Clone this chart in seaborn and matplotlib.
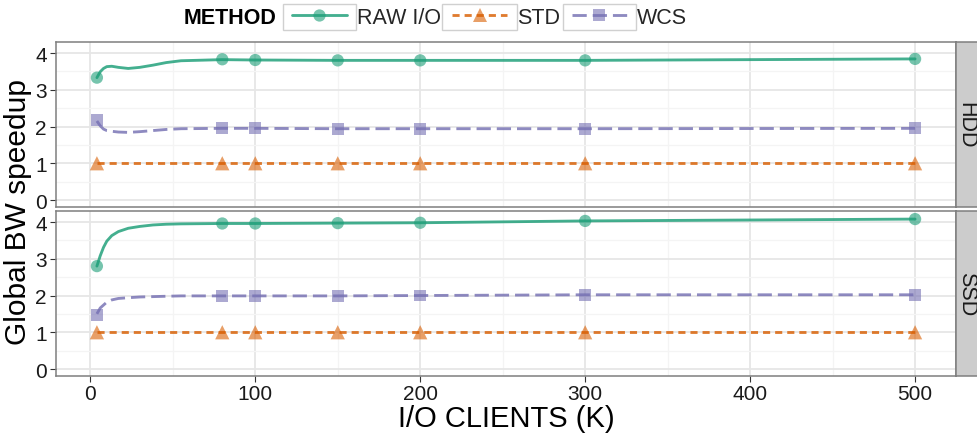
import matplotlib
matplotlib.use("Agg")
import matplotlib.pyplot as plt
from matplotlib.lines import Line2D
from matplotlib.patches import Rectangle
from matplotlib.ticker import MultipleLocator
import pandas as pd
import seaborn as sns

# ---- data -------------------------------------------------------------
methods = ["RAW I/O", "STD", "WCS"]
devices = ["HDD", "SSD"]

# measured points
clients = [4, 80, 100, 150, 200, 300, 500]
hdd_raw = [3.33, 3.83, 3.81, 3.80, 3.80, 3.80, 3.84]
hdd_std = [1.00, 1.00, 1.00, 1.00, 1.00, 1.00, 1.00]
hdd_wcs = [2.17, 1.95, 1.95, 1.94, 1.94, 1.94, 1.95]
ssd_raw = [2.80, 3.96, 3.96, 3.97, 3.98, 4.03, 4.08]
ssd_std = [1.00, 1.00, 1.00, 1.00, 1.00, 1.00, 1.00]
ssd_wcs = [1.48, 1.98, 1.98, 1.99, 2.00, 2.02, 2.02]

# smoothed trend curves
curve_clients = [4, 6, 8, 10, 13, 17, 23, 30, 38, 46, 55, 80, 100, 150, 200, 300, 500]
hdd_raw_curve = [3.33, 3.49, 3.58, 3.63, 3.64, 3.61, 3.58, 3.61, 3.67, 3.74, 3.79,
                 3.82, 3.81, 3.80, 3.80, 3.80, 3.84]
hdd_std_curve = [1.00, 1.00, 1.00, 1.00, 1.00, 1.00, 1.00, 1.00, 1.00, 1.00, 1.00,
                 1.00, 1.00, 1.00, 1.00, 1.00, 1.00]
hdd_wcs_curve = [2.15, 2.02, 1.93, 1.89, 1.87, 1.85, 1.84, 1.86, 1.89, 1.92, 1.94,
                 1.95, 1.95, 1.94, 1.94, 1.94, 1.95]
ssd_raw_curve = [2.80, 3.08, 3.31, 3.48, 3.63, 3.74, 3.83, 3.88, 3.92, 3.94, 3.95,
                 3.96, 3.96, 3.97, 3.98, 4.03, 4.08]
ssd_std_curve = [1.00, 1.00, 1.00, 1.00, 1.00, 1.00, 1.00, 1.00, 1.00, 1.00, 1.00,
                 1.00, 1.00, 1.00, 1.00, 1.00, 1.00]
ssd_wcs_curve = [1.50, 1.66, 1.74, 1.82, 1.88, 1.92, 1.94, 1.96, 1.97, 1.98, 1.99,
                 1.99, 1.99, 1.99, 2.00, 2.02, 2.02]

y_ticks = [0, 1, 2, 3, 4]
x_ticks = [0, 100, 200, 300, 400, 500]

point_series = {
    ("HDD", "RAW I/O"): hdd_raw, ("HDD", "STD"): hdd_std, ("HDD", "WCS"): hdd_wcs,
    ("SSD", "RAW I/O"): ssd_raw, ("SSD", "STD"): ssd_std, ("SSD", "WCS"): ssd_wcs,
}
curve_series = {
    ("HDD", "RAW I/O"): hdd_raw_curve, ("HDD", "STD"): hdd_std_curve,
    ("HDD", "WCS"): hdd_wcs_curve,
    ("SSD", "RAW I/O"): ssd_raw_curve, ("SSD", "STD"): ssd_std_curve,
    ("SSD", "WCS"): ssd_wcs_curve,
}

pts = pd.DataFrame([
    {"device": d, "method": m, "clients": c, "speedup": v}
    for (d, m), vals in point_series.items() for c, v in zip(clients, vals)
])
curves = pd.DataFrame([
    {"device": d, "method": m, "clients": c, "speedup": v}
    for (d, m), vals in curve_series.items() for c, v in zip(curve_clients, vals)
])

# ---- styling ----------------------------------------------------------
sns.set_theme(style="white")
plt.rcParams["font.family"] = ["Liberation Sans", "DejaVu Sans"]

palette = {"RAW I/O": "#1B9E77", "STD": "#D95F02", "WCS": "#7570B3"}
LW = 2.05
dashes = {"RAW I/O": "", "STD": (2.5, 1.75), "WCS": (5.0, 2.1)}
markers = {"RAW I/O": "o", "STD": "^", "WCS": "s"}
msizes = {"RAW I/O": 78, "STD": 105, "WCS": 74}
LINE_ALPHA = 0.82
PT_ALPHA = 0.6

W, H = 977, 435
fig = plt.figure(figsize=(W / 100, H / 100), dpi=100)


def fx(px):
    return px / W


def fy(py):
    return 1 - py / H


PANEL_L, PANEL_R = 56, 956
panel_rows = {"HDD": (43, 208), "SSD": (212, 377)}

span = max(clients) - min(clients)
xlim = (min(clients) - 0.05 * span, max(clients) + 0.05 * span)
ylim = (-0.19, 4.30)

border_col = "#7F7F7F"
grid_major = "#E6E6E6"
grid_minor = "#F4F4F4"
TICK_FS = 15

for dev in devices:
    top, bot = panel_rows[dev]
    ax = fig.add_axes([fx(PANEL_L), fy(bot), fx(PANEL_R) - fx(PANEL_L), (bot - top) / H])
    ax.set_axisbelow(True)

    sub_c = curves[curves.device == dev]
    sub_p = pts[pts.device == dev]

    sns.scatterplot(data=sub_p, x="clients", y="speedup", hue="method",
                    style="method", size="method", hue_order=methods,
                    style_order=methods, size_order=methods,
                    palette=palette, markers=markers, sizes=msizes,
                    alpha=PT_ALPHA, linewidth=0, legend=False, ax=ax, zorder=2)
    sns.lineplot(data=sub_c, x="clients", y="speedup", hue="method",
                 style="method", hue_order=methods, style_order=methods,
                 palette=palette, dashes=dashes, linewidth=LW,
                 alpha=LINE_ALPHA, errorbar=None, legend=False, ax=ax, zorder=3)

    ax.set_xlim(*xlim)
    ax.set_ylim(*ylim)
    ax.set_xticks(x_ticks)
    ax.set_yticks(y_ticks)
    ax.xaxis.set_minor_locator(MultipleLocator(50))
    ax.yaxis.set_minor_locator(MultipleLocator(0.5))
    ax.grid(True, which="major", color=grid_major, lw=1.3)
    ax.grid(True, which="minor", color=grid_minor, lw=0.9)
    ax.set_xlabel("")
    ax.set_ylabel("")
    for s in ax.spines.values():
        s.set_color(border_col)
        s.set_linewidth(1.1)
    ax.tick_params(axis="y", which="major", left=True, length=4.5, width=0.8,
                   color="#333333", labelsize=TICK_FS, labelcolor="#1A1A1A", pad=2)
    ax.tick_params(which="minor", length=0)
    if dev == "SSD":
        ax.tick_params(axis="x", which="major", bottom=True, length=4.5, width=0.8,
                       color="#333333", labelsize=TICK_FS, labelcolor="#1A1A1A",
                       pad=1.5)
    else:
        ax.tick_params(axis="x", which="major", bottom=False, labelbottom=False)

    # facet strip on the right
    sax = fig.add_axes([fx(PANEL_R), fy(bot), 24 / W, (bot - top) / H])
    sax.set_facecolor("#CCCCCC")
    sax.set_xticks([])
    sax.set_yticks([])
    for s in sax.spines.values():
        s.set_color(border_col)
        s.set_linewidth(1.1)
    sax.text(0.42, 0.5, dev, rotation=270, ha="center", va="center",
             fontsize=15.5, color="#1A1A1A", transform=sax.transAxes)

fig.text(fx(18), fy(212), "Global BW speedup", rotation=90, ha="center",
         va="center", fontsize=21.5, color="#000000")
fig.text(fx(506), fy(419), "I/O CLIENTS (K)", ha="center", va="center",
         fontsize=21, color="#000000")

# ---- legend -----------------------------------------------------------
LEG_Y = 18
fig.text(fx(184), fy(LEG_Y), "METHOD", ha="left", va="center", fontsize=15.5,
         fontweight="bold", color="#000000")

handles = []
for m in methods:
    lc = matplotlib.colors.to_rgba(palette[m], LINE_ALPHA)
    pc = matplotlib.colors.to_rgba(palette[m], PT_ALPHA)
    ls = "-" if m == "RAW I/O" else (0, dashes[m])
    handles.append(Line2D([], [], color=lc, lw=LW, linestyle=ls, marker=markers[m],
                          markersize=msizes[m] ** 0.5, markerfacecolor=pc,
                          markeredgewidth=0))

leg = fig.legend(handles, methods, loc="center left",
                 bbox_to_anchor=(fx(292), fy(LEG_Y)), ncol=3, frameon=False,
                 fontsize=15.5, handlelength=2.55, handletextpad=0.45,
                 columnspacing=0.55, borderpad=0, borderaxespad=0)

fig.canvas.draw()
renderer = fig.canvas.get_renderer()
for h in leg.legend_handles:
    bb = h.get_window_extent(renderer)
    x0 = bb.x0 - 3
    x1 = bb.x1 + 3
    yc = (1 - LEG_Y / H) * H
    rect = Rectangle((x0 / W, (yc - 13) / H), (x1 - x0) / W, 26 / H,
                     transform=fig.transFigure, facecolor="white",
                     edgecolor="#D0D0D0", lw=1.0, zorder=1)
    fig.patches.append(rect)

fig.savefig("out.png", dpi=100)
